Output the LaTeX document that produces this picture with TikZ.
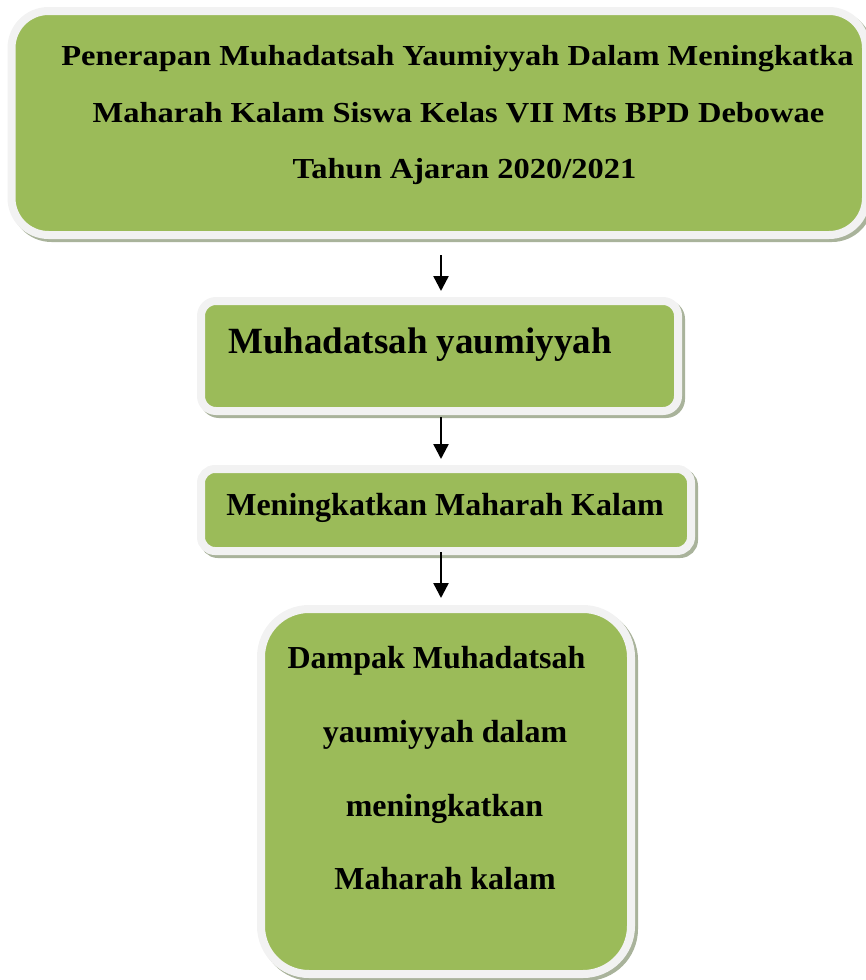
\documentclass[tikz,border=0pt]{standalone}
\usepackage{fontspec}
\usepackage{graphicx}
\setmainfont{Liberation Serif}
\usetikzlibrary{arrows.meta,calc}
\definecolor{boxgreen}{HTML}{9BBB59}
\definecolor{rimcol}{HTML}{F2F2F2}
\definecolor{shadecol}{HTML}{A9B39B}
\tikzset{
  gbox/.style={rectangle, fill=boxgreen, draw=rimcol, line width=8pt, inner sep=0pt,
    preaction={draw=shadecol, fill=shadecol, line width=8pt, transform canvas={shift={(3pt,-3pt)}}}},
  toptext/.style={inner sep=0pt, anchor=base, font=\fontsize{29}{34}\selectfont\bfseries},
  bigtext/.style={inner sep=0pt, font=\fontsize{37}{42}\selectfont\bfseries},
  midtext/.style={inner sep=0pt, font=\fontsize{32}{38}\selectfont\bfseries},
  arr/.style={draw=black, line width=2.4pt, -{Triangle[length=15pt,width=15pt]}}
}
\begin{document}
\begin{tikzpicture}[x=1pt,y=-1pt]
\useasboundingbox (0,0) rectangle (865,980);
% boxes
\node[gbox, rounded corners=37pt, minimum width=854.5pt, minimum height=224pt] (box1) at (438.75,123) {};
\node[gbox, rounded corners=15pt, minimum width=477pt, minimum height=110pt] (box2) at (439.5,356) {};
\node[gbox, rounded corners=14pt, minimum width=490pt, minimum height=82pt] (box3) at (446,510) {};
\node[gbox, rounded corners=48pt, minimum width=370pt, minimum height=365pt] (box4) at (446,791.5) {};
% texts
\node[toptext] (t1a) at (457.5,65) {\scalebox{1.12}[1]{Penerapan Muhadatsah Yaumiyyah Dalam Meningkatka}};
\node[toptext] (t1b) at (458.5,122) {\scalebox{1.12}[1]{Maharah Kalam Siswa Kelas VII Mts BPD Debowae}};
\node[toptext] (t1c) at (464.5,178) {\scalebox{1.12}[1]{Tahun Ajaran 2020/2021}};
\node[bigtext, anchor=base west] (t2) at (228,353) {Muhadatsah yaumiyyah};
\node[midtext, anchor=base] (t3) at (445,515) {Meningkatkan Maharah Kalam};
\node[midtext, anchor=base] (t4a) at (436.5,668) {Dampak Muhadatsah};
\node[midtext, anchor=base] (t4b) at (445,742) {yaumiyyah dalam};
\node[midtext, anchor=base] (t4c) at (444.5,816) {meningkatkan};
\node[midtext, anchor=base] (t4d) at (445,889) {Maharah kalam};
% arrows
\coordinate (ax) at (441,0);
\draw[arr, shorten >=6pt] ($(box1.south -| ax)+(0,16)$) -- (box2.north -| ax);
\draw[arr, shorten >=6pt, shorten <=2pt] (box2.south -| ax) -- (box3.north -| ax);
\draw[arr, shorten >=7pt, shorten <=-3pt] (box3.south -| ax) -- (box4.north -| ax);
\end{tikzpicture}
\end{document}
